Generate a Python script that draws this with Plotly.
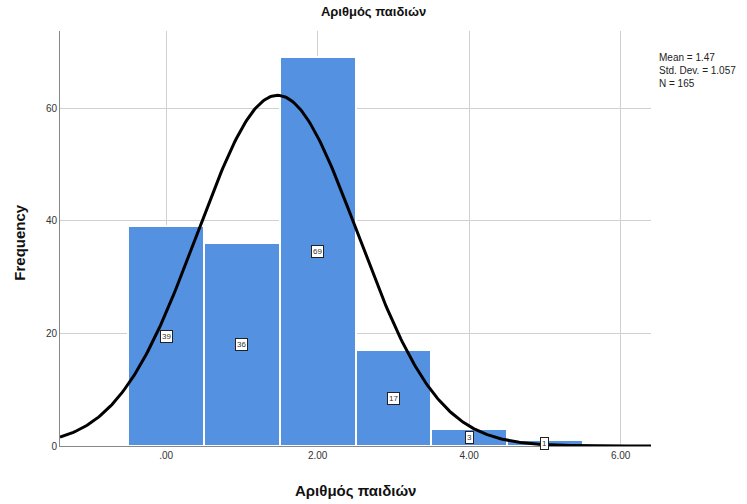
import numpy as np
import plotly.graph_objects as go

categories = [0, 1, 2, 3, 4, 5]
counts = [39, 36, 69, 17, 3, 1]
mean = 1.47
std = 1.057
n = 165
x_tick_vals = [0, 2, 4, 6]
x_tick_text = [".00", "2.00", "4.00", "6.00"]
y_tick_vals = [0, 20, 40, 60]
title_text = "Αριθμός παιδιών"

fig = go.Figure()
fig.add_trace(go.Bar(
    x=categories, y=counts, width=1,
    marker=dict(color="#5591e1", line=dict(color="white", width=2)),
    hoverinfo="x+y", showlegend=False))

xs = np.linspace(-1.4, 6.4, 400)
ys = n * 1.0 / (std * np.sqrt(2 * np.pi)) * np.exp(-0.5 * ((xs - mean) / std) ** 2)
fig.add_trace(go.Scatter(x=xs, y=ys, mode="lines",
                         line=dict(color="black", width=3), showlegend=False))

for c, v in zip(categories, counts):
    fig.add_annotation(x=c, y=v / 2, text=str(v), showarrow=False,
                       font=dict(size=8, color="#333333", family="Liberation Sans, Arial"),
                       bgcolor="white", bordercolor="#222222", borderwidth=1, borderpad=1)

fig.add_annotation(xref="paper", yref="paper", x=1.01, y=0.955, xanchor="left", yanchor="top",
                   align="left", showarrow=False,
                   text="Mean = 1.47<br>Std. Dev. = 1.057<br>N = 165",
                   font=dict(size=10, color="#222222", family="Liberation Sans, Arial"))

# axis titles as annotations (fixed pixel placement)
fig.add_annotation(xref="paper", yref="paper", x=0.5, y=-44 / 415, xanchor="center", yanchor="middle",
                   showarrow=False, text="<b>" + title_text + "</b>",
                   font=dict(size=15, color="#111111"))
fig.add_annotation(xref="paper", yref="paper", x=-40 / 591, y=0.49, xanchor="center", yanchor="middle",
                   showarrow=False, text="<b>Frequency</b>", textangle=-90,
                   font=dict(size=15, color="#111111"))

fig.update_layout(
    width=747, height=504,
    margin=dict(l=60, r=96, t=31, b=58, autoexpand=False),
    plot_bgcolor="white", paper_bgcolor="white",
    font=dict(family="Liberation Sans, Arial", color="#222222"),
    title=dict(text="<b>" + title_text + "</b>", x=0.5, xanchor="center", y=0.977, yanchor="middle",
               font=dict(size=13, color="#111111")),
    bargap=0,
)
fig.update_xaxes(range=[-1.4, 6.4], tickvals=x_tick_vals, ticktext=x_tick_text,
                 showgrid=True, gridcolor="#d0d0d0", gridwidth=1,
                 showline=True, linecolor="#888888", linewidth=1, zeroline=False,
                 ticks="", tickfont=dict(size=10, color="#333333"), automargin=False)
fig.update_yaxes(range=[0, 73.7], tickvals=y_tick_vals,
                 showgrid=True, gridcolor="#d0d0d0", gridwidth=1,
                 showline=True, linecolor="#888888", linewidth=1, zeroline=False,
                 ticks="", tickfont=dict(size=10, color="#333333"), automargin=False)

fig.write_html("out.html")
